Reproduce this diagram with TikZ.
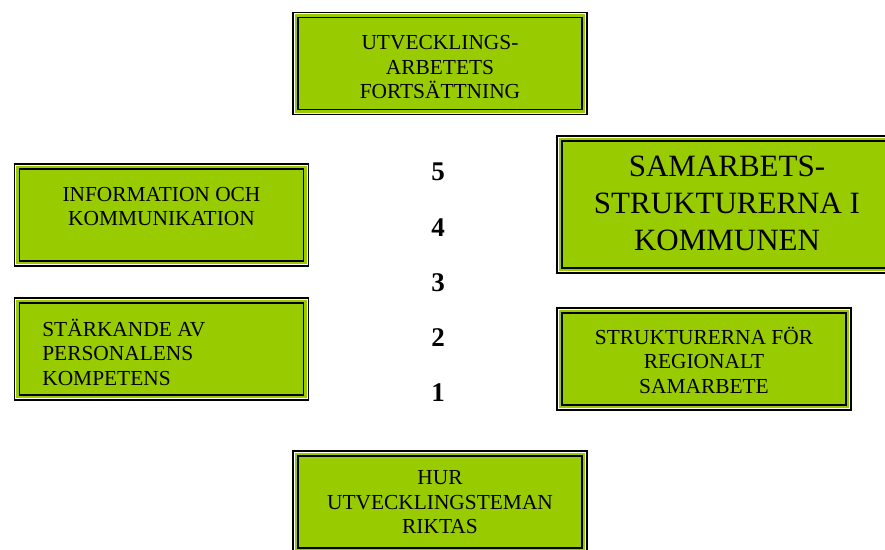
\documentclass[tikz,border=0pt]{standalone}
\usepackage{fontspec}
\setmainfont{Liberation Serif}
\usepackage{tikz}
\usetikzlibrary{positioning}
\definecolor{leaf}{HTML}{99CC00}

\begin{document}
\begin{tikzpicture}[
		x=1pt, y=-1pt,
		theme box/.style={
			rectangle, draw, line width=1.4pt, fill=leaf, inner sep=0pt,
			minimum width=294pt, minimum height=102pt,
			path picture={
				\draw[white, line width=0.9pt]
					([shift={(1.3pt,1.3pt)}]path picture bounding box.south west)
					rectangle ([shift={(-1.3pt,-1.3pt)}]path picture bounding box.north east);
				\draw[line width=1.8pt]
					([shift={(5pt,5pt)}]path picture bounding box.south west)
					rectangle ([shift={(-5pt,-5pt)}]path picture bounding box.north east);
			},
		},
		theme text/.style={
			align=center, font=\fontsize{21.4}{24.5}\selectfont,
		},
		level/.style={
			font=\bfseries\fontsize{27}{30}\selectfont,
		},
	]
		\useasboundingbox (0, 0) rectangle (885, 549);

		\node[theme box] (cont) at (440, 63.5) {};
		\node[theme box] (info) at (161.5, 215) {};
		\node[theme box, minimum width=340pt, minimum height=137pt] (coop) at (727, 204.5) {};
		\node[theme box] (staff) at (161.5, 349) {};
		\node[theme box] (region) at (704, 359) {};
		\node[theme box] (aim) at (440, 502) {};

		\node[theme text, below=20pt of cont.north] (cont text) {UTVECKLINGS-\\ARBETETS\\FORTSÄTTNING};
		\node[theme text, below=20pt of info.north] (info text) {INFORMATION OCH\\KOMMUNIKATION};
		\node[theme text, font=\fontsize{31}{37}\selectfont, below=17pt of coop.north] (coop text) {SAMARBETS-\\STRUKTURERNA I\\KOMMUNEN};
		\node[theme text, align=left, below right=18pt and 25pt of staff.north west] (staff text) {STÄRKANDE AV\\PERSONALENS\\KOMPETENS};
		\node[theme text, below=16pt of region.north] (region text) {STRUKTURERNA FÖR\\REGIONALT\\SAMARBETE};
		\node[theme text, below=17pt of aim.north] (aim text) {HUR\\UTVECKLINGSTEMAN\\RIKTAS};

		\foreach \n/\y in {5/172, 4/228, 3/283, 2/338, 1/393}
			\node[level] (level \n) at (438, \y) {\n};
	\end{tikzpicture}
\end{document}
